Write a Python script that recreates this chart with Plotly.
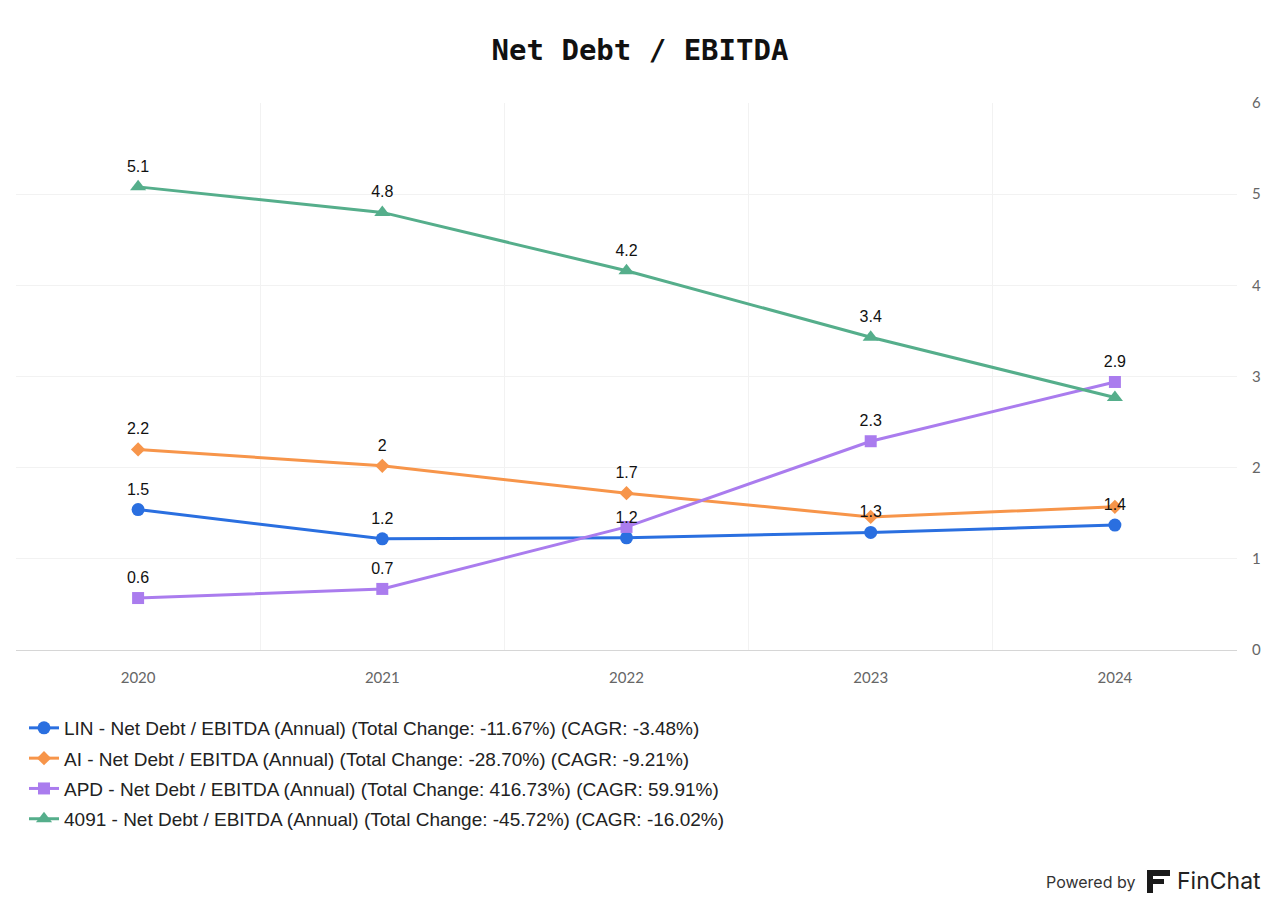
import plotly.graph_objects as go

years = ["2020", "2021", "2022", "2023", "2024"]

lin = [1.54, 1.22, 1.23, 1.29, 1.37]
ai = [2.20, 2.02, 1.72, 1.46, 1.57]
apd = [0.57, 0.67, 1.35, 2.29, 2.94]
t4091 = [5.08, 4.80, 4.16, 3.43, 2.77]

lin_hidden = [False, False, False, False, False]
ai_hidden = [False, False, False, True, True]
apd_hidden = [False, False, True, False, False]
t4091_hidden = [False, False, False, False, True]

names = [
    "LIN - Net Debt / EBITDA (Annual) (Total Change: -11.67%) (CAGR: -3.48%)",
    "AI - Net Debt / EBITDA (Annual) (Total Change: -28.70%) (CAGR: -9.21%)",
    "APD - Net Debt / EBITDA (Annual) (Total Change: 416.73%) (CAGR: 59.91%)",
    "4091 - Net Debt / EBITDA (Annual) (Total Change: -45.72%) (CAGR: -16.02%)",
]
colors = ["#2A6FE0", "#F7954A", "#AA7CEE", "#55AE8B"]
symbols = ["circle", "diamond", "square", "triangle-up"]
sizes = [13, 11, 12, 14]
series = [lin, ai, apd, t4091]
hidden = [lin_hidden, ai_hidden, apd_hidden, t4091_hidden]


def fmt(v):
    s = f"{v:.1f}"
    return s[:-2] if s.endswith(".0") else s


fig = go.Figure()
for i, (vals, name) in enumerate(zip(series, names)):
    fig.add_trace(go.Scatter(
        x=years, y=vals, name=name, mode="lines+markers",
        line=dict(color=colors[i], width=3),
        marker=dict(symbol=symbols[i], size=sizes[i], color=colors[i]),
        legendrank=i + 1, legendgroup=f"g{i}",
    ))
for i, vals in enumerate(series):
    fig.add_trace(go.Scatter(
        x=years, y=vals, mode="markers+text", showlegend=False, hoverinfo="skip",
        marker=dict(size=16, opacity=0),
        text=["" if h else fmt(v) for v, h in zip(vals, hidden[i])],
        textposition="top center",
        textfont=dict(family="Liberation Sans, Arial", size=16, color="#111"),
    ))


def px_x(p):
    return (p - 16) / 1221


def px_y(p):
    return (650 - p) / 547


logo_shapes = [
    dict(type="rect", xref="paper", yref="paper", x0=px_x(1147), x1=px_x(1170),
         y0=px_y(876), y1=px_y(870), fillcolor="#1a1a1a", line=dict(width=0)),
    dict(type="rect", xref="paper", yref="paper", x0=px_x(1147), x1=px_x(1164),
         y0=px_y(884), y1=px_y(879), fillcolor="#1a1a1a", line=dict(width=0)),
    dict(type="rect", xref="paper", yref="paper", x0=px_x(1147), x1=px_x(1153),
         y0=px_y(893), y1=px_y(870), fillcolor="#1a1a1a", line=dict(width=0)),
]

fig.update_layout(
    width=1280, height=907,
    paper_bgcolor="white", plot_bgcolor="white",
    margin=dict(l=16, r=43, t=103, b=257),
    title=dict(text="Net Debt / EBITDA", x=0.5, xanchor="center", y=0.945, yanchor="middle",
               font=dict(family="DejaVu Sans Mono", size=29, color="#111", weight="bold")),
    showlegend=True,
    legend=dict(orientation="v", x=px_x(24), xanchor="left", y=px_y(709), yanchor="top",
                font=dict(family="Liberation Sans, Arial", size=19, color="#222"),
                traceorder="grouped", tracegroupgap=2.6),
    xaxis=dict(type="category", range=[-0.5, 4.5], showgrid=True, gridcolor="#f2f2f2",
               tickson="boundaries", ticks="", showline=True, linecolor="#d6d6d6", linewidth=1,
               tickfont=dict(family="Lato", size=15, color="#666"), ticklabelstandoff=14,
               zeroline=False),
    yaxis=dict(side="right", range=[0, 6], dtick=1, showgrid=True, gridcolor="#f2f2f2",
               zeroline=False, showline=False, ticks="",
               tickfont=dict(family="Lato", size=15, color="#666"), ticklabelstandoff=14),
    shapes=logo_shapes,
    annotations=[dict(text="Powered by", xref="paper", yref="paper", x=px_x(1137), y=px_y(882),
                      xanchor="right", yanchor="middle", showarrow=False,
                      font=dict(family="Inter, Liberation Sans", size=16, color="#333")),
                 dict(text="FinChat", xref="paper", yref="paper", x=px_x(1263), y=px_y(881),
                      xanchor="right", yanchor="middle", showarrow=False,
                      font=dict(family="Inter, Liberation Sans", size=23, color="#222"))],
)
fig.write_html("out.html")
